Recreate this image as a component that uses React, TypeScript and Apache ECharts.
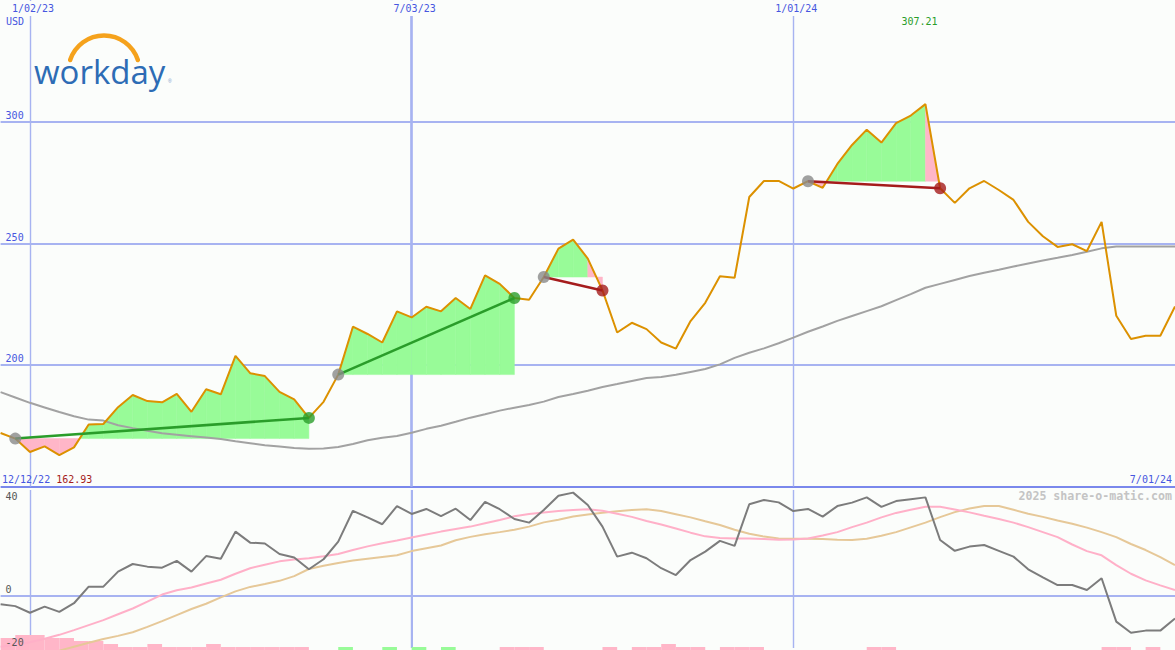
import React, { useEffect, useRef } from 'react';
import * as echarts from 'echarts';

const dates = [
  '12/19/22', '12/26/22', '1/02/23', '1/09/23', '1/16/23', '1/23/23', '1/30/23', '2/06/23', '2/13/23', '2/20/23',
  '2/27/23', '3/06/23', '3/13/23', '3/20/23', '3/27/23', '4/03/23', '4/10/23', '4/17/23', '4/24/23', '5/01/23',
  '5/08/23', '5/15/23', '5/22/23', '5/29/23', '6/05/23', '6/12/23', '6/19/23', '6/26/23', '7/03/23', '7/10/23',
  '7/17/23', '7/24/23', '7/31/23', '8/07/23', '8/14/23', '8/21/23', '8/28/23', '9/04/23', '9/11/23', '9/18/23',
  '9/25/23', '10/02/23', '10/09/23', '10/16/23', '10/23/23', '10/30/23', '11/06/23', '11/13/23', '11/20/23', '11/27/23',
  '12/04/23', '12/11/23', '12/18/23', '12/25/23', '1/01/24', '1/08/24', '1/15/24', '1/22/24', '1/29/24', '2/05/24',
  '2/12/24', '2/19/24', '2/26/24', '3/04/24', '3/11/24', '3/18/24', '3/25/24', '4/01/24', '4/08/24', '4/15/24',
  '4/22/24', '4/29/24', '5/06/24', '5/13/24', '5/20/24', '5/27/24', '6/03/24', '6/10/24', '6/17/24', '6/24/24',
  '7/01/24',
];
const topDateLabels = ['1/02/23', '7/03/23', '1/01/24'];
const midYearLabel = '7/03/23';
const startLabel = '12/12/22';
const endLabel = '7/01/24';
const currencyLabel = 'USD';
const brandText = 'workday';
const creditText = '2025 share-o-matic.com';

const price = [
  172.0, 169.7, 164.2, 166.5, 162.93, 166.1, 175.5, 175.7, 182.6, 187.6,
  185.1, 184.6, 188.1, 180.7, 190.0, 187.9, 203.7, 196.6, 195.4, 188.9,
  185.8, 178.2, 184.8, 196.0, 215.7, 212.7, 209.2, 222.0, 219.5, 223.9,
  222.0, 227.5, 223.0, 236.8, 233.3, 227.5, 226.8, 236.1, 247.8, 251.5,
  243.7, 230.6, 213.3, 217.3, 214.7, 209.2, 206.7, 218.0, 225.5, 236.4,
  235.8, 269.0, 275.6, 275.6, 272.5, 275.5, 272.8, 282.6, 290.4, 296.7,
  291.4, 299.4, 302.5, 307.21, 272.6, 266.6, 272.6, 275.6, 271.9, 267.8,
  258.8, 252.9, 248.5, 249.6, 246.8, 258.8, 220.2, 210.6, 212.0, 212.0,
  224.0,
];
const movingAvg = [
  188.8, 186.6, 184.4, 182.5, 180.6, 178.9, 177.5, 177.1, 175.2, 174.0,
  172.9, 171.9, 171.3, 170.7, 170.1, 169.5, 168.6, 167.8, 167.0, 166.4,
  165.8, 165.5, 165.6, 166.2, 167.5, 169.0, 170.0, 170.8, 172.1, 173.7,
  175.0, 176.6, 178.3, 179.7, 181.2, 182.4, 183.5, 184.9, 186.8, 188.0,
  189.4, 190.9, 192.1, 193.4, 194.6, 195.0, 195.9, 197.1, 198.3, 200.2,
  202.9, 205.0, 206.8, 208.9, 211.2, 213.6, 215.8, 218.1, 220.1, 222.1,
  224.1, 226.6, 229.1, 231.7, 233.3, 234.9, 236.5, 237.9, 239.1, 240.4,
  241.7, 242.9, 244.0, 245.2, 246.5, 247.9, 248.7, 248.7, 248.7, 248.7,
  248.7,
];
const oscFast = [
  -3.4, -4.1, -6.6, -4.3, -6.3, -3.0, 3.3, 3.3, 9.0, 11.9,
  10.9, 10.5, 13.1, 9.0, 14.9, 13.9, 24.2, 20.0, 19.7, 15.7,
  14.4, 9.9, 13.7, 20.4, 32.1, 29.6, 27.0, 33.9, 30.9, 32.8,
  30.1, 32.9, 28.6, 35.5, 32.7, 29.0, 27.6, 32.4, 37.8, 39.0,
  34.3, 26.1, 14.7, 16.2, 14.1, 10.3, 7.7, 13.4, 16.6, 20.7,
  18.8, 34.6, 36.2, 35.3, 32.0, 32.8, 29.9, 33.9, 35.2, 37.2,
  33.6, 35.8, 36.5, 37.2, 21.0, 16.9, 18.5, 19.1, 16.9, 14.7,
  9.9, 6.8, 3.9, 3.9, 2.0, 6.5, -10.0, -14.2, -13.4, -13.4,
  -8.8,
];
const oscSignal = [
  -19.5, -18.8, -17.8, -16.5, -15.0, -13.2, -11.3, -9.4, -7.2, -5.0,
  -2.4, 0.3, 1.9, 3.0, 4.5, 5.9, 8.2, 10.3, 11.6, 12.9,
  13.6, 14.1, 14.8, 15.7, 17.2, 18.6, 19.8, 20.8, 22.0, 23.1,
  24.2, 25.2, 26.1, 27.4, 28.6, 30.0, 30.9, 31.5, 32.0, 32.4,
  32.7, 32.1, 31.0, 29.8, 28.2, 26.9, 25.4, 23.8, 22.4, 21.8,
  21.6, 21.6, 21.4, 21.1, 21.2, 21.6, 22.7, 24.0, 25.9, 27.6,
  29.6, 31.3, 32.5, 33.6, 33.6, 32.6, 31.5, 30.2, 29.0, 27.6,
  25.9, 24.0, 22.1, 19.3, 16.8, 15.2, 11.5, 8.2, 5.7, 3.8,
  2.0,
];
const oscSlow = [
  -26.0, -24.5, -23.5, -22.3, -21.0, -19.5, -18.0, -16.6, -15.4, -14.0,
  -12.0, -9.8, -7.5, -5.2, -3.2, -0.8, 1.5, 3.2, 4.3, 5.5,
  7.3, 10.0, 11.2, 12.3, 13.2, 13.9, 14.6, 15.2, 16.8, 17.9,
  18.9, 20.9, 22.2, 23.2, 24.0, 24.9, 26.1, 27.7, 28.7, 29.9,
  30.7, 31.4, 31.9, 32.4, 32.7, 32.0, 30.8, 29.6, 28.1, 26.7,
  24.9, 23.4, 22.3, 21.6, 21.5, 21.5, 21.4, 21.1, 21.0, 21.5,
  22.6, 24.0, 25.8, 27.6, 29.7, 31.6, 33.0, 33.9, 33.9, 32.5,
  31.0, 29.8, 28.4, 27.2, 25.7, 24.0, 22.1, 19.5, 17.2, 14.5,
  11.5,
];
const pinkLevels = [
  4, 5, 5, 4, 4, 3, 3, 2, 1, 1,
  2, 1, 1, 1, 2, 1, 1, 1, 1, 1,
  1, 0, 0, 0, 0, 0, 0, 0, 0, 0,
  0, 0, 0, 0, 1, 1, 1, 0, 0, 0,
  0, 1, 0, 1, 1, 2, 1, 1, 0, 1,
  1, 1, 0, 0, 0, 0, 0, 0, 0, 1,
  1, 0, 0, 0, 0, 0, 0, 0, 0, 0,
  0, 0, 0, 0, 0, 1, 1, 0, 1, 0,
  0,
];
const greenLevels = [
  0, 0, 0, 0, 0, 0, 0, 0, 0, 0,
  0, 0, 0, 0, 0, 0, 0, 0, 0, 0,
  0, 0, 0, 1, 0, 0, 1, 0, 1, 0,
  1, 0, 0, 0, 0, 0, 0, 0, 0, 0,
  0, 0, 0, 0, 0, 0, 0, 0, 0, 0,
  0, 0, 0, 0, 0, 0, 0, 0, 0, 0,
  0, 0, 0, 0, 0, 0, 0, 0, 0, 0,
  0, 0, 0, 0, 0, 0, 0, 0, 0, 0,
  0,
];
const tradeEntries = [1, 23, 37, 55];
const tradeExits = [21, 35, 41, 64];
const tradeWins = [true, true, false, false];

const BG = '#fbfdfb';
const GRID_C = '#a7b3f1';
const SEP_C = '#7a88ec';
const BLUE_TXT = '#4656e0';
const GREEN_FILL = '#98fb98';
const PINK_FILL = '#ffb6c8';
const WIN_C = '#2a9d2a';
const LOSS_C = '#a51c1c';
const MONO = "'DejaVu Sans Mono', monospace";
const NONE = 'rgba(0,0,0,0)';

export default function App() {
  const ref = useRef<HTMLDivElement>(null);

  useEffect(() => {
    if (!ref.current) return;
    const chart = echarts.init(ref.current, null, { renderer: 'svg' });

    const fillData: number[][] = [];
    tradeEntries.forEach((en, t) => {
      for (let k = en; k < tradeExits[t]; k++) fillData.push([k, t]);
    });
    const barData: any[] = [];
    pinkLevels.forEach((v, k) => { if (v > 0) barData.push({ value: [k, v], itemStyle: { color: PINK_FILL } }); });
    greenLevels.forEach((v, k) => { if (v > 0) barData.push({ value: [k, v], itemStyle: { color: GREEN_FILL } }); });

    const isTop = (_i: number, v: string) => topDateLabels.indexOf(v) >= 0;
    const isMid = (_i: number, v: string) => v === midYearLabel;

    const gridBox = { left: 0.6, width: 1175.2 };
    const lowLabel = { inside: true, margin: 5, color: '#555', fontFamily: MONO, fontSize: 10 };
    const option: any = {
      animation: false,
      backgroundColor: BG,
      grid: [
        { ...gridBox, top: 0, height: 486.5 },
        { ...gridBox, top: 490, height: 158 },
        { ...gridBox, top: 620, height: 30 },
      ],
      xAxis: [
        {
          type: 'category', gridIndex: 0, data: dates, boundaryGap: false, position: 'top',
          axisLine: { show: false }, axisTick: { show: false },
          axisLabel: {
            inside: true, interval: isTop, color: BLUE_TXT, fontFamily: MONO, fontSize: 10,
            margin: 1, verticalAlign: 'top', backgroundColor: BG, padding: [2, 2, 3, 8],
          },
          splitLine: { show: true, interval: isTop, lineStyle: { color: GRID_C, width: 1.4 } },
        },
        {
          type: 'category', gridIndex: 1, data: dates, boundaryGap: false,
          axisLine: { show: false }, axisTick: { show: false }, axisLabel: { show: false },
          splitLine: { show: true, interval: isTop, lineStyle: { color: GRID_C, width: 1.4 } },
        },
        { type: 'category', gridIndex: 2, data: dates, boundaryGap: false, show: false },
        {
          type: 'category', gridIndex: 0, data: dates, boundaryGap: false,
          axisLine: { show: false }, axisTick: { show: false }, axisLabel: { show: false },
          splitLine: { show: true, interval: isMid, lineStyle: { color: GRID_C, width: 2.6 } },
        },
        {
          type: 'category', gridIndex: 1, data: dates, boundaryGap: false,
          axisLine: { show: false }, axisTick: { show: false }, axisLabel: { show: false },
          splitLine: { show: true, interval: isMid, lineStyle: { color: GRID_C, width: 2 } },
        },
      ],
      yAxis: [
        {
          type: 'value', gridIndex: 0, min: 150, max: 350, interval: 50,
          axisLine: { show: false }, axisTick: { show: false },
          axisLabel: {
            inside: true, margin: 5, verticalAlign: 'bottom', color: BLUE_TXT, fontFamily: MONO, fontSize: 10,
            showMinLabel: false, showMaxLabel: false, padding: [0, 0, 1, 0],
          },
          splitLine: { lineStyle: { color: [SEP_C, GRID_C, GRID_C, GRID_C, NONE], width: 2 } },
        },
        {
          type: 'value', gridIndex: 1, min: -20, max: 40, interval: 20,
          axisLine: { show: false }, axisTick: { show: false }, axisLabel: { show: false },
          splitLine: { lineStyle: { color: [NONE, GRID_C, NONE, NONE], width: 2 } },
        },
        {
          type: 'value', gridIndex: 1, min: -20, max: 40, interval: 20, position: 'left', z: 10,
          axisLine: { show: false }, axisTick: { show: false }, splitLine: { show: false },
          axisLabel: {
            ...lowLabel, verticalAlign: 'bottom', showMaxLabel: false, padding: [0, 0, 1, 0],
            formatter: (v: number) => (v === 20 || v === 40 ? '' : String(v)),
          },
        },
        {
          type: 'value', gridIndex: 1, min: -20, max: 40, interval: 20, position: 'left', offset: 0, z: 10,
          axisLine: { show: false }, axisTick: { show: false }, splitLine: { show: false },
          axisLabel: {
            ...lowLabel, verticalAlign: 'top', showMinLabel: false, padding: [1, 0, 0, 0],
            formatter: (v: number) => (v === 40 ? '40' : ''),
          },
        },
        { type: 'value', gridIndex: 2, min: 0, max: 10, show: false },
      ],
      series: [
        {
          type: 'custom', xAxisIndex: 0, yAxisIndex: 0, z: 1, silent: true, data: fillData,
          renderItem: (_p: any, api: any) => {
            const k = api.value(0);
            const t = api.value(1);
            const e = price[tradeEntries[t]];
            const p0 = price[k];
            const p1 = price[k + 1];
            const A = api.coord([k, p0]);
            const B = api.coord([k + 1, p1]);
            const E0 = api.coord([k, e]);
            const E1 = api.coord([k + 1, e]);
            const children: any[] = [];
            const poly = (pts: number[][], c: string) =>
              children.push({ type: 'polygon', shape: { points: pts }, style: { fill: c, stroke: c, lineWidth: 0.5 } });
            if (!tradeWins[t] && k + 1 === tradeExits[t]) {
              poly([E0, A, B, E1], PINK_FILL);
            } else if ((p0 - e) * (p1 - e) >= 0) {
              poly([E0, A, B, E1], (p0 + p1) / 2 >= e ? GREEN_FILL : PINK_FILL);
            } else {
              const f = (e - p0) / (p1 - p0);
              const C = [A[0] + (B[0] - A[0]) * f, A[1] + (B[1] - A[1]) * f];
              poly([E0, A, C], p0 > e ? GREEN_FILL : PINK_FILL);
              poly([C, B, E1], p1 > e ? GREEN_FILL : PINK_FILL);
            }
            return { type: 'group', children };
          },
        },
        {
          type: 'line', xAxisIndex: 0, yAxisIndex: 0, z: 2, data: movingAvg, symbol: 'none', silent: true,
          lineStyle: { color: '#a2a2a2', width: 2 },
        },
        {
          type: 'line', xAxisIndex: 0, yAxisIndex: 0, z: 3, data: price, symbol: 'none', silent: true,
          lineStyle: { color: '#dc9100', width: 2 },
        },
        ...tradeEntries.map((en, t) => ({
          type: 'line', xAxisIndex: 0, yAxisIndex: 0, z: 4, symbol: 'none', silent: true,
          data: [[en, price[en]], [tradeExits[t], price[tradeExits[t]]]],
          lineStyle: { color: tradeWins[t] ? WIN_C : LOSS_C, width: 2.5 },
        })),
        {
          type: 'scatter', xAxisIndex: 0, yAxisIndex: 0, z: 5, symbolSize: 12, silent: true,
          data: tradeEntries.map((en) => [en, price[en]]),
          itemStyle: { color: '#8a8a8a' },
        },
        {
          type: 'scatter', xAxisIndex: 0, yAxisIndex: 0, z: 5, symbolSize: 12, silent: true,
          data: tradeExits.map((ex, t) => ({ value: [ex, price[ex]], itemStyle: { color: tradeWins[t] ? WIN_C : LOSS_C } })),
        },
        {
          type: 'custom', xAxisIndex: 2, yAxisIndex: 4, z: 1, silent: true, data: barData,
          renderItem: (_p: any, api: any) => {
            const k = api.value(0);
            const v = api.value(1);
            const P = api.coord([k, v]);
            const Q = api.coord([k + 1, 0]);
            return {
              type: 'rect',
              shape: { x: P[0], y: P[1], width: Q[0] - P[0], height: Q[1] - P[1] },
              style: api.style(),
            };
          },
        },
        {
          type: 'line', xAxisIndex: 1, yAxisIndex: 1, z: 2, data: oscSlow, symbol: 'none', silent: true, clip: false,
          lineStyle: { color: '#e6c898', width: 2 },
        },
        {
          type: 'line', xAxisIndex: 1, yAxisIndex: 1, z: 3, data: oscSignal, symbol: 'none', silent: true, clip: false,
          lineStyle: { color: '#ffb0c8', width: 2 },
        },
        {
          type: 'line', xAxisIndex: 1, yAxisIndex: 1, z: 4, data: oscFast, symbol: 'none', silent: true, clip: false,
          lineStyle: { color: '#7c7c7c', width: 2 },
        },
      ],
    };
    chart.setOption(option);

    const maxVal = Math.max(...price);
    const minVal = Math.min(...price);
    const maxIdx = price.indexOf(maxVal);
    const pt = chart.convertToPixel({ gridIndex: 0 }, [maxIdx, 300]) as number[];

    chart.setOption({
      graphic: [
        {
          type: 'arc', silent: true,
          shape: { cx: 104, cy: 71, r: 35.6, startAngle: (-162 * Math.PI) / 180, endAngle: (-18 * Math.PI) / 180, clockwise: true },
          style: { stroke: '#f5a21c', lineWidth: 4.5, fill: 'none', lineCap: 'round' },
        },
        {
          type: 'text', x: 34, y: 71, silent: true,
          style: {
            text: brandText, fontSize: 33, fontFamily: "'Open Sans', sans-serif",
            fill: '#2d6cb5', verticalAlign: 'middle',
          },
        },
        {
          type: 'text', x: 168, y: 81, silent: true,
          style: { text: '®', fontSize: 5, fontFamily: 'sans-serif', fill: '#7a9ac8', verticalAlign: 'middle' },
        },
        {
          type: 'text', x: 6, y: 21, silent: true,
          style: { text: currencyLabel, fontSize: 10, fontFamily: MONO, fill: BLUE_TXT, verticalAlign: 'middle' },
        },
        {
          type: 'text', x: pt[0] - 6, y: 21, silent: true,
          style: { text: maxVal.toFixed(2), fontSize: 10, fontFamily: MONO, fill: WIN_C, align: 'center', verticalAlign: 'middle' },
        },
        {
          type: 'text', x: 2, y: 479, silent: true,
          style: {
            text: `{d|${startLabel}} {v|${minVal.toFixed(2)}}`, fontSize: 10, fontFamily: MONO, verticalAlign: 'middle',
            rich: { d: { fill: BLUE_TXT, fontSize: 10, fontFamily: MONO }, v: { fill: LOSS_C, fontSize: 10, fontFamily: MONO } },
          },
        },
        {
          type: 'text', x: 1172, y: 479, silent: true,
          style: { text: endLabel, fontSize: 10, fontFamily: MONO, fill: BLUE_TXT, align: 'right', verticalAlign: 'middle' },
        },
        {
          type: 'text', x: 1172, y: 496, silent: true,
          style: { text: creditText, fontSize: 11.6, fontWeight: 'bold', fontFamily: MONO, fill: '#c4c4c4', align: 'right', verticalAlign: 'middle' },
        },
      ],
    });

    return () => chart.dispose();
  }, []);

  return (
    <div
      ref={ref}
      style={{ position: 'fixed', left: 0, top: 0, width: 1175, height: 650, background: BG }}
    />
  );
}
